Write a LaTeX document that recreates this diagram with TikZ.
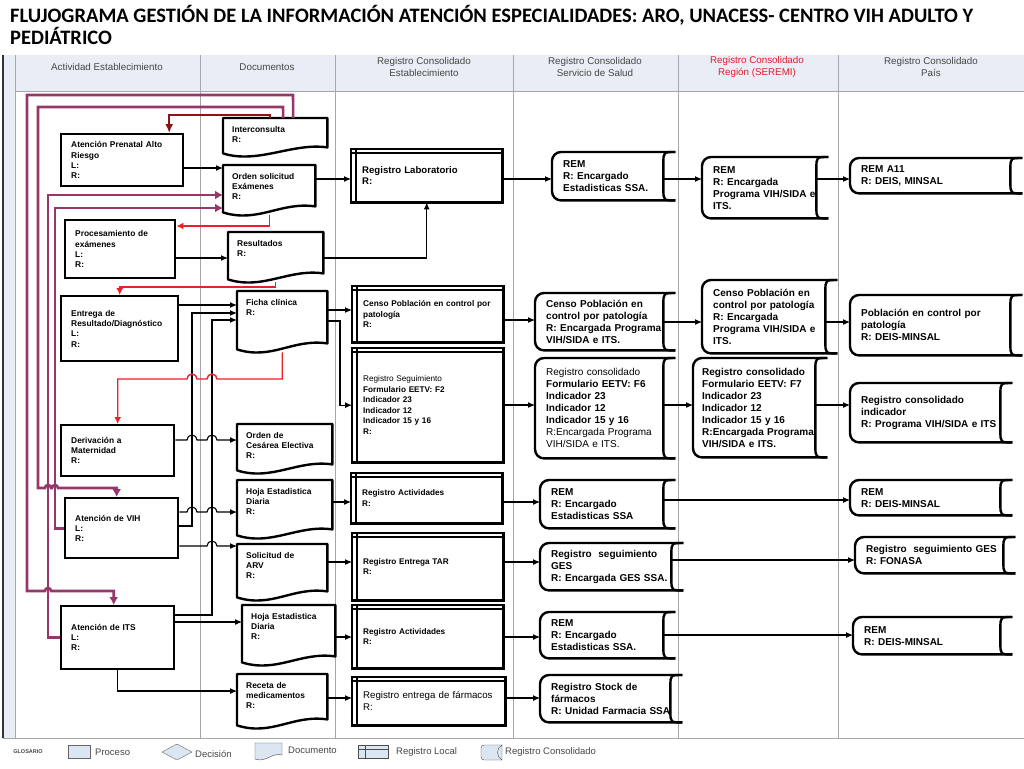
\documentclass[tikz,border=0pt]{standalone}
\usepackage{fontspec}
\setmainfont{Liberation Sans}
\newfontfamily\titlefont{Carlito}
\usetikzlibrary{arrows.meta}

\definecolor{hdrfill}{RGB}{232,237,246}
\definecolor{hdrline}{RGB}{165,165,172}
\definecolor{hdrtext}{RGB}{70,70,70}
\definecolor{seremired}{RGB}{225,30,40}
\definecolor{purp}{RGB}{150,55,105}
\definecolor{redline}{RGB}{232,32,40}
\definecolor{darkred}{RGB}{140,20,22}
\definecolor{glfill}{RGB}{220,230,242}

\newcommand{\boxfont}{\fontsize{8.4}{10.2}\selectfont\bfseries}
\newcommand{\locfont}{\fontsize{8.2}{10.5}\selectfont\bfseries}
\newcommand{\consfont}{\fontsize{10}{12}\selectfont\bfseries}

\tikzset{
  proc/.style = {rectangle, draw, line width=2.4pt, fill=white, anchor=north west,
    align=left, inner xsep=10pt, font=\boxfont},
  docu/.style = {rectangle, anchor=north west, align=left, inner xsep=9pt,
    inner ysep=6pt, text height=8pt, text depth=#1, font=\boxfont,
    append after command={\pgfextra{
      \draw[line width=2.4pt, line join=round] (\tikzlastnode.north west) -- (\tikzlastnode.north east)
        -- ([yshift=9pt]\tikzlastnode.south east)
        .. controls ([xshift=-35pt,yshift=14pt]\tikzlastnode.south east)
        and ([xshift=35pt,yshift=-8pt]\tikzlastnode.south west)
        .. ([yshift=3pt]\tikzlastnode.south west) -- cycle;}}},
  regloc/.style = {rectangle, anchor=north west, align=left, inner xsep=11pt,
    font=\locfont,
    append after command={\pgfextra{
      \draw[line width=2.4pt] (\tikzlastnode.south west) rectangle (\tikzlastnode.north east);
      \draw[line width=1.6pt] ([yshift=-4pt]\tikzlastnode.north west) -- ([yshift=-4pt]\tikzlastnode.north east);
      \draw[line width=1.6pt] ([xshift=5pt]\tikzlastnode.north west) -- ([xshift=5pt]\tikzlastnode.south west);}}},
  regcons/.style = {rectangle, anchor=north west, align=left, inner xsep=11pt,
    font=\consfont,
    append after command={\pgfextra{
      \draw[line width=2.4pt, rounded corners=9pt] (\tikzlastnode.north east) -- (\tikzlastnode.north west)
        -- (\tikzlastnode.south west) -- (\tikzlastnode.south east);
      \draw[line width=2.4pt] (\tikzlastnode.north east)
        .. controls ([xshift=-12pt]\tikzlastnode.north east) .. ([xshift=-12pt,yshift=-11pt]\tikzlastnode.north east)
        -- ([xshift=-12pt,yshift=11pt]\tikzlastnode.south east)
        .. controls ([xshift=-12pt]\tikzlastnode.south east) .. (\tikzlastnode.south east);}}},
  conn/.style = {-{Latex[length=7pt,width=6pt]}, line width=1.1pt},
  redc/.style = {-{Latex[length=7pt,width=7pt]}, line width=1.4pt, redline},
  darkc/.style = {-{Latex[length=9pt,width=8pt]}, line width=2pt, darkred},
  purc/.style = {-{Latex[length=8pt,width=9pt]}, line width=2.6pt, purp},
  hdr/.style = {font=\fontsize{9.8}{12}\selectfont, text=hdrtext, align=center},
  gltext/.style = {anchor=west, font=\fontsize{9.5}{11}\selectfont, text=hdrtext, inner sep=0pt},
}

\begin{document}
\begin{tikzpicture}[x=1pt,y=-1pt]
\useasboundingbox (0,0) rectangle (1024,768);

% title
\node[anchor=north west, align=left, inner sep=0pt,
  font=\titlefont\bfseries\fontsize{20.5}{22}\selectfont] (title) at (10,5)
  {FLUJOGRAMA GESTIÓN DE LA INFORMACIÓN ATENCIÓN ESPECIALIDADES: ARO, UNACESS- CENTRO VIH ADULTO Y\\PEDIÁTRICO};

% lanes
\fill[hdrfill] (3,55) rectangle (1024,91);
\fill[hdrfill] (3,91) rectangle (15,738);
\draw[hdrline] (15,91) -- (1024,91);
\draw[hdrline] (15,55) -- (15,738);
\draw[hdrline] (3,738) -- (1024,738);
\draw[line width=1.4pt, black!80] (3,55) -- (3,738);
\foreach \cx in {200,335,513,678,838}
  \draw[hdrline, line width=0.9pt] (\cx,55) -- (\cx,738);

\node[hdr] (hact) at (107,67) {Actividad Establecimiento};
\node[hdr] (hdoc) at (267,67) {Documentos};
\node[hdr] (hest) at (424,67) {Registro Consolidado\\Establecimiento};
\node[hdr] (hss) at (595,67) {Registro Consolidado\\Servicio de Salud};
\node[hdr, text=seremired] (hreg) at (757,67) {Registro Consolidado\\Región (SEREMI)};
\node[hdr] (hpais) at (931,67) {Registro Consolidado\\País};

% actividades
\node[proc, text width=102pt, minimum height=52pt] (prenatal) at (60,133) {Atención Prenatal Alto\\Riesgo\\L:\\R:};
\node[proc, text width=90pt, minimum height=58pt] (proces) at (64,219) {Procesamiento de\\exámenes\\L:\\R:};
\node[proc, text width=97pt, minimum height=65pt] (entrega) at (60,295) {Entrega de\\Resultado/Diagnóstico\\L:\\R:};
\node[proc, text width=93pt, minimum height=51pt] (deriv) at (60,424) {Derivación a\\Maternidad\\R:};
\node[proc, text width=93pt, minimum height=60pt] (vih) at (64,497) {Atención de VIH\\L:\\R:};
\node[proc, text width=93pt, minimum height=63pt] (its) at (60,605) {Atención de ITS\\L:\\R:};

% documentos
\node[docu=18pt, text width=86pt] (intercon) at (223,118) {Interconsulta\\R:};
\node[docu=30pt, text width=74pt] (orden) at (223,165) {Orden solicitud\\Exámenes\\R:};
\node[docu=30pt, text width=77pt] (result) at (228,232) {Resultados\\R:};
\node[docu=41pt, text width=72pt] (ficha) at (237,291) {Ficha clínica\\R:};
\node[docu=29pt, text width=77pt] (cesarea) at (237,424) {Orden de\\Cesárea Electiva\\R:};
\node[docu=38pt, text width=77pt] (hoja1) at (237,480) {Hoja Estadistica\\Diaria\\R:};
\node[docu=36pt, text width=72pt] (arv) at (237,544) {Solicitud de\\ARV\\R:};
\node[docu=40pt, text width=75pt] (hoja2) at (242,605) {Hoja Estadistica\\Diaria\\R:};
\node[docu=34pt, text width=72pt] (receta) at (237,674) {Receta de\\medicamentos\\R:};

% registro establecimiento
\node[regloc, text width=129pt, minimum height=53pt, font=\fontsize{9.6}{11.5}\selectfont\bfseries] (reglab) at (351,149) {Registro Laboratorio\\R:};
\node[regloc, text width=129pt, minimum height=56pt, font=\fontsize{8.3}{10.5}\selectfont\bfseries] (censoloc) at (352,286) {Censo Población en control por\\patología\\R:};
\node[regloc, text width=129pt, minimum height=114pt] (regseg) at (352,348) {{\mdseries Registro Seguimiento}\\Formulario EETV: F2\\Indicador 23\\Indicador 12\\Indicador 15 y 16\\R:};
\node[regloc, text width=129pt, minimum height=50pt] (regact1) at (351,473) {Registro Actividades\\R:};
\node[regloc, text width=129pt, minimum height=67pt] (regtar) at (352,533) {Registro Entrega TAR\\R:};
\node[regloc, text width=129pt, minimum height=63pt] (regact2) at (352,605) {Registro Actividades\\R:};
\node[regloc, text width=131pt, minimum height=48pt, font=\fontsize{9.7}{12}\selectfont] (regfarm) at (352,677) {Registro entrega de fármacos\\R:};

% servicio de salud
\node[regcons, text width=101pt, minimum height=48pt] (remss1) at (552,152) {REM\\R: Encargado\\Estadisticas SSA.};
\node[regcons, text width=118pt, minimum height=57pt] (censoss) at (535,293) {Censo Población en\\control por patología\\R: Encargada Programa\\VIH/SIDA e ITS.};
\node[regcons, text width=118pt, minimum height=100pt] (f6) at (535,358) {{\mdseries Registro consolidado}\\Formulario EETV: F6\\Indicador 23\\Indicador 12\\Indicador 15 y 16\\{\mdseries R:Encargada Programa}\\{\mdseries VIH/SIDA e ITS.}};
\node[regcons, text width=113pt, minimum height=48pt] (remss2) at (540,480) {REM\\R: Encargado\\Estadisticas SSA};
\node[regcons, text width=121pt, minimum height=47pt] (gesss) at (540,543) {Registro\ \ seguimiento\\GES\\R: Encargada GES SSA.};
\node[regcons, text width=113pt, minimum height=46pt] (remss3) at (540,612) {REM\\R: Encargado\\Estadisticas SSA.};
\node[regcons, text width=120pt, minimum height=47pt] (stock) at (540,675) {Registro Stock de\\fármacos\\R: Unidad Farmacia SSA};

% seremi
\node[regcons, text width=104pt, minimum height=61pt] (remseremi) at (702,157) {REM\\R: Encargada\\Programa VIH/SIDA e\\ITS.};
\node[regcons, text width=113pt, minimum height=73pt] (censoseremi) at (702,280) {Censo Población en\\control por patología\\R: Encargada\\Programa VIH/SIDA e\\ITS.};
\node[regcons, text width=116pt, minimum height=99pt, inner xsep=9pt] (f7) at (693,358) {Registro consolidado\\Formulario EETV: F7\\Indicador 23\\Indicador 12\\Indicador 15 y 16\\R:Encargada Programa\\VIH/SIDA e ITS.};

% pais
\node[regcons, text width=150pt, minimum height=35pt] (remA11) at (850,158) {REM A11\\R: DEIS, MINSAL};
\node[regcons, text width=150pt, minimum height=60pt] (poblacion) at (850,295) {Población en control por\\patología\\R: DEIS-MINSAL};
\node[regcons, text width=140pt, minimum height=59pt] (indicador) at (850,383) {Registro consolidado\\indicador\\R: Programa VIH/SIDA e ITS};
\node[regcons, text width=140pt, minimum height=35pt] (remdeis1) at (850,480) {REM\\R: DEIS-MINSAL};
\node[regcons, text width=138pt, minimum height=36pt] (gesfon) at (855,537) {Registro\ \ seguimiento GES\\R: FONASA};
\node[regcons, text width=137pt, minimum height=37pt] (remdeis2) at (853,617) {REM\\R: DEIS-MINSAL};

%edges
\draw[conn] (prenatal.east |- 0,168) -- (orden.west |- 0,168);
\draw[conn] (orden.east |- 0,179) -- (reglab.west |- 0,179);
\draw[conn] (proces.east |- 0,258) -- (result.west |- 0,258);
\draw[conn] (result.east |- 0,258) -| (reglab.south);
\draw[conn] (entrega.east |- 0,305) -- (ficha.west |- 0,305);
\draw[conn] (ficha.east |- 0,310) -- (censoloc.west |- 0,310);
\draw[conn] (ficha.east |- 0,321) -- (340,321) |- (regseg.west);
\draw[conn] (vih.east |- 0,526) -- (192,526) |- (ficha.west |- 0,313);
\draw[conn] (its.east |- 0,615) -- (212,615) |- (ficha.west |- 0,320);
\draw[conn] (deriv.east |- 0,440) -- (187,440) arc[start angle=180,end angle=0,radius=5pt]
  -- (207,440) arc[start angle=180,end angle=0,radius=5pt] -- (cesarea.west |- 0,440);
\draw[conn] (vih.east |- 0,512) -- (187,512) arc[start angle=180,end angle=0,radius=5pt]
  -- (207,512) arc[start angle=180,end angle=0,radius=5pt] -- (hoja1.west |- 0,512);
\draw[conn] (vih.east |- 0,546) -- (207,546) arc[start angle=180,end angle=0,radius=5pt] -- (arv.west |- 0,546);
\draw[conn] (its.east |- 0,622) -- (hoja2.west |- 0,622);
\draw[conn] (its.south) |- (receta.west |- 0,691);
\draw[conn] (hoja1.east |- 0,502) -- (regact1.west |- 0,502);
\draw[conn] (arv.east |- 0,562) -- (regtar.west |- 0,562);
\draw[conn] (hoja2.east |- 0,637) -- (regact2.west |- 0,637);
\draw[conn] (receta.east |- 0,698) -- (regfarm.west |- 0,698);
\draw[conn] (reglab.east |- 0,179) -- (remss1.west |- 0,179);
\draw[conn] (censoloc.east |- 0,320) -- (censoss.west |- 0,320);
\draw[conn] (regseg.east |- 0,405) -- (f6.west |- 0,405);
\draw[conn] (regact1.east |- 0,502) -- (remss2.west |- 0,502);
\draw[conn] (regtar.east |- 0,562) -- (gesss.west |- 0,562);
\draw[conn] (regact2.east |- 0,637) -- (remss3.west |- 0,637);
\draw[conn] (regfarm.east |- 0,698) -- (stock.west |- 0,698);
\draw[conn] ([xshift=-12pt]remss1.east |- 0,179) -- (remseremi.west |- 0,179);
\draw[conn] ([xshift=-12pt]censoss.east |- 0,322) -- (censoseremi.west |- 0,322);
\draw[conn] ([xshift=-12pt]f6.east |- 0,405) -- (f7.west |- 0,405);
\draw[conn] ([xshift=-12pt]remseremi.east |- 0,179) -- (remA11.west |- 0,179);
\draw[conn] ([xshift=-12pt]censoseremi.east |- 0,322) -- (poblacion.west |- 0,322);
\draw[conn] ([xshift=-12pt]f7.east |- 0,405) -- (indicador.west |- 0,405);
\draw[conn] ([xshift=-12pt]remss2.east |- 0,500) -- (remdeis1.west |- 0,500);
\draw[conn] ([xshift=-12pt]gesss.east |- 0,560) -- (gesfon.west |- 0,560);
\draw[conn] ([xshift=-12pt]remss3.east |- 0,635) -- (remdeis2.west |- 0,635);

% red returns
\draw[redc] (orden.south) |- (proces.east |- 0,226);
\draw[redc] (result.south) |- (entrega.north |- 0,287) -- (entrega.north);
\draw[redc] (ficha.south) -- (ficha.south |- 0,379) -- (217,379) arc[start angle=0,end angle=180,radius=5pt]
  -- (197,379) arc[start angle=0,end angle=180,radius=5pt] -- (deriv.north |- 0,379) -- (deriv.north);
\draw[darkc] ([xshift=-5pt]intercon.north) -- ++(0pt,3pt) -| ([xshift=47pt]prenatal.north);

% interconsulta loops
\draw[purc] ([xshift=18pt]intercon.north) -- (293,95) -- (27,95) -- (27,591)
  -- (45,591) arc[start angle=180,end angle=0,radius=3pt] -- ([xshift=-4pt]its.north |- 0,591) -- ([xshift=-4pt]its.north);
\draw[purc] ([xshift=8pt]intercon.north) -- (283,107) -- (38,107) -- (38,488)
  -- (45,488) arc[start angle=180,end angle=0,radius=3pt] -- (52,488) arc[start angle=180,end angle=0,radius=3pt]
  -- ([xshift=-5pt]vih.north |- 0,488) -- ([xshift=-5pt]vih.north);
\draw[purc] (vih.west) -| (55,208) -- (orden.west |- 0,208);
\draw[purc] (its.west) -| (48,195) -- (orden.west |- 0,195);

% glosario
\node[font=\bfseries\fontsize{5.5}{6}\selectfont, text=hdrtext] (glos) at (28,752) {GLOSARIO};
\draw[black!60, fill=glfill] (68,745) rectangle (90,758);
\node[gltext] (gproc) at (95,752) {Proceso};
\draw[black!60, fill=glfill] (162,752) -- (177,744) -- (192,752) -- (177,760) -- cycle;
\node[gltext] (gdec) at (195,754) {Decisión};
\draw[black!70, fill=glfill] (255,743) -- (282,743) -- (282,755) .. controls (272,752) and (266,763) .. (255,759) -- cycle;
\node[gltext] (gdoc) at (288,750) {Documento};
\draw[black!70, fill=glfill] (358,745) rectangle (388,758);
\draw[black!70] (358,749) -- (388,749);
\draw[black!70] (365,745) -- (365,758);
\node[gltext] (gloc) at (396,752) {Registro Local};
\draw[black!70, fill=glfill, rounded corners=3pt] (502,745) -- (481,745) -- (481,760) -- (502,760);
\draw[black!70, fill=glfill] (502,745) .. controls (496,748) and (496,757) .. (502,760) -- cycle;
\node[gltext] (gcons) at (505,752) {Registro Consolidado};
\end{tikzpicture}
\end{document}
